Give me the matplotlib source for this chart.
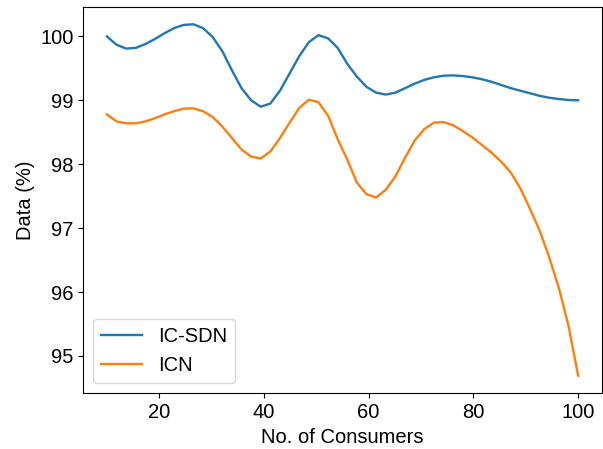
import numpy as np
import matplotlib
matplotlib.use("Agg")
import matplotlib.pyplot as plt

plt.rcParams['font.family'] = ['Liberation Sans', 'DejaVu Sans']
plt.rcParams['font.size'] = 14.5

consumers = np.linspace(10, 100, 50)

ic_sdn = [100.00, 99.87, 99.81, 99.82, 99.88, 99.96, 100.05, 100.13, 100.18, 100.19,
          100.13, 99.99, 99.77, 99.47, 99.19, 99.00, 98.90, 98.95, 99.15, 99.42,
          99.69, 99.91, 100.02, 99.97, 99.82, 99.57, 99.37, 99.21, 99.12, 99.09,
          99.12, 99.19, 99.26, 99.32, 99.36, 99.385, 99.39, 99.38, 99.36, 99.33,
          99.29, 99.24, 99.19, 99.15, 99.11, 99.07, 99.04, 99.02, 99.005, 99.00]

icn = [98.78, 98.67, 98.64, 98.64, 98.67, 98.72, 98.78, 98.83, 98.87, 98.875,
       98.83, 98.74, 98.59, 98.41, 98.23, 98.12, 98.09, 98.20, 98.41, 98.65,
       98.88, 99.01, 98.97, 98.76, 98.39, 98.07, 97.71, 97.53, 97.48, 97.60,
       97.81, 98.10, 98.37, 98.55, 98.65, 98.66, 98.61, 98.52, 98.42, 98.30,
       98.18, 98.04, 97.87, 97.62, 97.30, 96.96, 96.54, 96.06, 95.47, 94.69]

series_names = ["IC-SDN", "ICN"]

fig = plt.figure(figsize=(6.03, 4.49), dpi=100)
ax = fig.add_axes([83.3/603, 1 - 393.3/449, (601.7-83.3)/603, (393.3-6.7)/449])
ax.plot(consumers, ic_sdn, color='#1f77b4', lw=1.7, label=series_names[0])
ax.plot(consumers, icn, color='#ff7f0e', lw=1.7, label=series_names[1])
ax.set_xlabel("No. of Consumers")
ax.set_ylabel("Data (%)")
ax.set_xticks([20, 40, 60, 80, 100])
ax.set_yticks([95, 96, 97, 98, 99, 100])
ax.legend(loc='lower left')
fig.savefig("out.png", dpi=100)
